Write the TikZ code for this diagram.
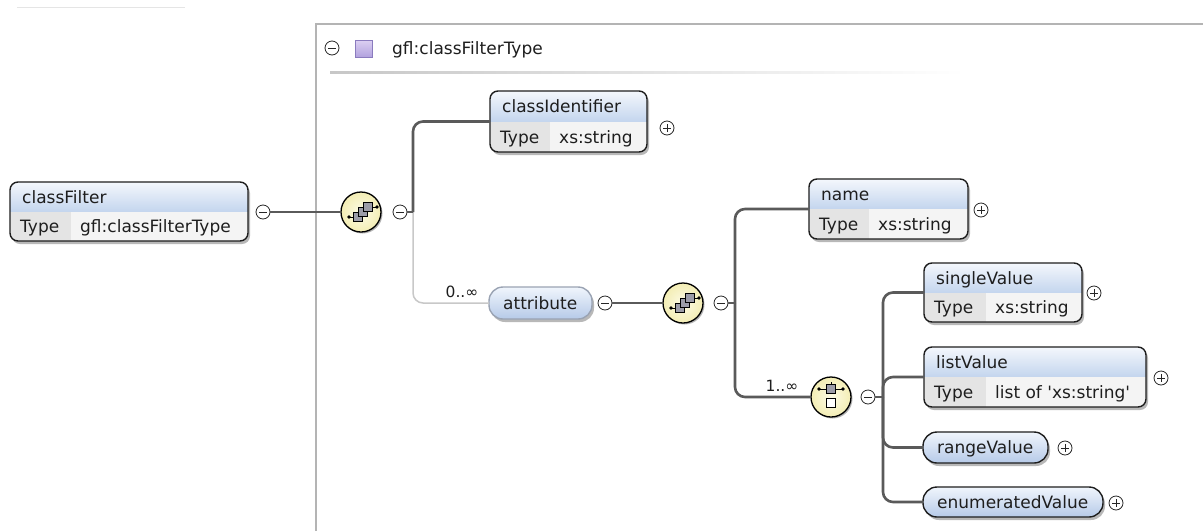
\documentclass[tikz,border=0pt]{standalone}
\usepackage{fontspec}
\setmainfont{DejaVu Sans}[Ligatures=TeXOff]
\usetikzlibrary{fit,calc,shadows}
\definecolor{connc}{HTML}{5A5A5A}
\definecolor{optc}{HTML}{C8C8C8}
\definecolor{hdtop}{HTML}{F4F7FC}
\definecolor{hdbot}{HTML}{C3D5EE}
\definecolor{typeL}{HTML}{E4E4E4}
\definecolor{typeR}{HTML}{F4F4F4}
\definecolor{pilltop}{HTML}{F0F5FC}
\definecolor{pillbot}{HTML}{B6CAE8}
\definecolor{compIn}{HTML}{FDFBE6}
\definecolor{compOut}{HTML}{F3EDB4}
\definecolor{framec}{HTML}{B4B4B4}
\definecolor{txtc}{HTML}{1E1E1E}
\definecolor{sqgray}{HTML}{9C9CA8}
\definecolor{purtop}{HTML}{DCD0F2}
\definecolor{purbot}{HTML}{B2A2DE}
\definecolor{purdraw}{HTML}{8A7BBE}
\definecolor{optborder}{HTML}{9AA3B3}
\tikzset{
  txt/.style={inner sep=0pt, text=txtc, font=\fontsize{17}{19}\selectfont},
  lbl/.style={inner sep=0pt, text=txtc, font=\fontsize{15.5}{17}\selectfont},
  boxline/.style={draw=txtc, line width=1.4pt},
  shadowc/.style={fill=black, opacity=0.28},
  conn/.style={draw=connc, line width=2.6pt, rounded corners=10pt},
  optconn/.style={draw=optc, line width=1.5pt, rounded corners=10pt},
  pm/.style={circle, draw=black!85, line width=0.8pt, fill=white, minimum size=14pt, inner sep=0pt},
  pminus/.style={pm, path picture={\draw[line width=0.9pt, black!85] ([xshift=-3.8pt]path picture bounding box.center) -- ([xshift=3.8pt]path picture bounding box.center);}},
  pplus/.style={pm, path picture={\draw[line width=0.9pt, black!85] ([xshift=-3.8pt]path picture bounding box.center) -- ([xshift=3.8pt]path picture bounding box.center) ([yshift=-3.8pt]path picture bounding box.center) -- ([yshift=3.8pt]path picture bounding box.center);}},
  comp/.style={circle, draw=black, line width=1.3pt, minimum size=40pt, inner sep=0pt, inner color=compIn, outer color=compOut, drop shadow={shadow xshift=1.5pt, shadow yshift=-1.5pt, fill=black, opacity=0.3}},
  sq/.style={draw=black, line width=0.6pt, fill=sqgray},
  wsq/.style={draw=black, line width=0.7pt, fill=white},
  icl/.style={draw=black, line width=0.9pt},
}
% name, left, top, right, mid y, bottom, divider x, title, type
\newcommand\elembox[9]{%
  \fill[shadowc, rounded corners=8pt] (#2+2,#3+3) rectangle (#4+2,#6+3);
  \begin{scope}
    \clip[rounded corners=8pt] (#2,#3) rectangle (#4,#6);
    \shade[top color=hdtop, bottom color=hdbot] (#2,#3) rectangle (#4,#5);
    \fill[typeL] (#2,#5) rectangle (#7,#6);
    \fill[typeR] (#7,#5) rectangle (#4,#6);
  \end{scope}
  \draw[boxline, rounded corners=8pt] (#2,#3) rectangle (#4,#6);
  \node[fit={(#2,#3)(#4,#6)}, inner sep=0pt] (#1) {};
  \node[txt, anchor=base west] (#1-t) at (#2+12,{(#3+#5)/2+6}) {#8};
  \node[txt, anchor=base west] (#1-k) at (#2+10,{(#5+#6)/2+6}) {Type};
  \node[txt, anchor=base west] (#1-v) at (#7+9,{(#5+#6)/2+6}) {#9};
}
% name, left, top, right, bottom, text, border colour
\newcommand\pillbox[7]{%
  \fill[shadowc, rounded corners=14pt] (#2+2,#3+3) rectangle (#4+2,#5+3);
  \shade[top color=pilltop, bottom color=pillbot, rounded corners=14pt] (#2,#3) rectangle (#4,#5);
  \draw[draw=#7, line width=1.4pt, rounded corners=14pt] (#2,#3) rectangle (#4,#5);
  \node[fit={(#2,#3)(#4,#5)}, inner sep=0pt] (#1) {};
  \node[txt, anchor=base west] (#1-t) at (#2+14,{(#3+#5)/2+6}) {#6};
}
\newcommand\seqicon[1]{%
  \begin{scope}[shift={(#1)}]
    \draw[icl] (-14,5) -- (-8,5);
    \fill (-14,5) circle (1.8pt);
    \draw[icl] (8,-5) -- (14,-5);
    \fill (14,-5) circle (1.8pt);
    \draw[sq] (-9.5,0.5) rectangle (-0.5,9.5);
    \draw[sq] (-4.5,-4.5) rectangle (4.5,4.5);
    \draw[sq] (0.5,-9.5) rectangle (9.5,-0.5);
  \end{scope}}
\newcommand\choiceicon[1]{%
  \begin{scope}[shift={(#1)}]
    \draw[icl] (-12,-8) -- (12,-8);
    \fill (-12,-8) circle (1.8pt);
    \fill (12,-8) circle (1.8pt);
    \draw[icl] (0,-15) -- (0,-12);
    \draw[sq] (-4.5,-12.5) rectangle (4.5,-3.5);
    \draw[wsq] (-4.5,1.5) rectangle (4.5,10.5);
  \end{scope}}
\begin{document}
\begin{tikzpicture}[x=1pt,y=-1pt]
\useasboundingbox[fill=white] (0,0) rectangle (1203,531);
% faint line top left
\draw[black!10, line width=1pt] (17,7) -- (185,7);
% type frame
\draw[framec, line width=2pt] (316,531) -- (316,24) -- (1203,24);
\node[pminus] (tminus) at (332,48) {};
\shade[top color=purtop, bottom color=purbot, draw=purdraw, line width=0.6pt] (355,40) rectangle (372,57);
\node[txt, anchor=base west] (ttitle) at (392,54) {gfl:classFilterType};
\shade[left color=black!22, right color=white] (330,71) rectangle (965,73);

% elements
\elembox{cf}{10}{182}{248}{212}{241}{71}{classFilter}{gfl:classFilterType}
\elembox{ci}{490}{91}{647}{122}{152}{550}{classIdentifier}{xs:string}
\elembox{nm}{809}{179}{968}{209}{239}{869}{name}{xs:string}
\elembox{sv}{924}{263}{1082}{293}{322}{986}{singleValue}{xs:string}
\elembox{lv}{924}{347}{1146}{377}{407}{986}{listValue}{list of 'xs:string'}
\pillbox{at}{489}{287}{592}{319}{attribute}{optborder}
\pillbox{rv}{923}{432}{1048}{463}{rangeValue}{txtc}
\pillbox{ev}{923}{487}{1103}{517}{enumeratedValue}{txtc}

% compositors
\node[comp] (s1) at (361,212) {};
\node[comp] (s2) at (683,303) {};
\node[comp] (ch) at (831,397) {};
\seqicon{363,212}
\seqicon{685,303}
\choiceicon{831,397}

% plus / minus
\node[pminus] (m0) at (263,212) {};
\node[pminus] (m1) at (400,212) {};
\node[pminus] (ma) at (605,303) {};
\node[pminus] (m2) at (721,303) {};
\node[pminus] (m3) at (868,397) {};
\node[pplus] (pci) at (667,128) {};
\node[pplus] (pnm) at (981,210) {};
\node[pplus] (psv) at (1094,293) {};
\node[pplus] (plv) at (1161,378) {};
\node[pplus] (prv) at (1065,448) {};
\node[pplus] (pev) at (1116,503) {};

% trunks
\coordinate (t1) at (413,212);
\coordinate (t2) at (735,303);
\coordinate (t3) at (883,397);

% connectors
\draw[conn] (m0.east) -- (s1.west);
\draw[optconn] (t1) |- (at.west);
\draw[conn] (m1.east) -- (t1);
\draw[conn] (t1) |- (ci.west);
\draw[conn] (ma.east) -- (s2.west);
\draw[conn] (m2.east) -- (t2);
\draw[conn] (t2) |- (nm.west);
\draw[conn] (t2) |- (ch.west);
\draw[conn] (m3.east) -- (t3);
\draw[conn] (t3) |- (sv.west);
\draw[conn] (t3) |- (lv.west);
\draw[conn] (t3) |- (rv.west);
\draw[conn] (t3) |- (ev.west);

% multiplicity labels
\node[lbl, anchor=base] (l1) at (462,297) {0..∞};
\node[lbl, anchor=base] (l2) at (782,391) {1..∞};
\end{tikzpicture}
\end{document}
